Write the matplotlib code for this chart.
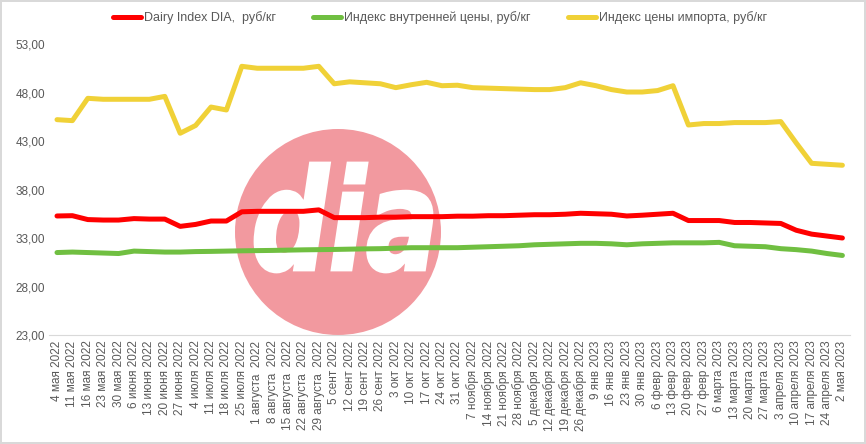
import matplotlib
matplotlib.use("Agg")
import matplotlib.pyplot as plt
from matplotlib.patches import Circle, PathPatch
from matplotlib.textpath import TextPath
from matplotlib.font_manager import FontProperties
from matplotlib.transforms import Affine2D

plt.rcParams["font.family"] = ["Liberation Sans", "DejaVu Sans"]

dates = [
    "4 мая 2022", "11 мая 2022", "16 мая 2022", "23 мая 2022", "30 мая 2022",
    "6 июня 2022", "13 июня 2022", "20 июня 2022", "27 июня 2022",
    "4 июля 2022", "11 июля 2022", "18 июля 2022", "25 июля 2022",
    "1 августа  2022", "8 августа  2022", "15 августа  2022", "22 августа  2022",
    "29 августа  2022", "5 сент 2022", "12 сент 2022", "19 сент 2022", "26 сент 2022",
    "3 окт 2022", "10 окт 2022", "17 окт 2022", "24 окт 2022", "31 окт 2022",
    "7 ноября 2022", "14 ноября 2022", "21 ноября 2022", "28 ноября 2022",
    "5 декабря 2022", "12 декабря 2022", "19 декабря 2022", "26 декабря 2022",
    "9 янв 2023", "16 янв 2023", "23 янв 2023", "30 янв 2023",
    "6 февр 2023", "13 февр 2023", "20 февр 2023", "27 февр 2023",
    "6 марта 2023", "13 марта 2023", "20 марта 2023", "27 марта 2023",
    "3 апреля 2023", "10 апреля 2023", "17 апреля 2023", "24 апреля 2023", "2 мая 2023",
]

dairy_index = [
    35.27, 35.3, 34.9, 34.85, 34.85, 35.0, 34.95, 34.95, 34.2, 34.4, 34.75, 34.75,
    35.7, 35.75, 35.75, 35.75, 35.75, 35.9, 35.1, 35.1, 35.1, 35.15, 35.15, 35.2,
    35.2, 35.2, 35.25, 35.25, 35.3, 35.3, 35.35, 35.4, 35.4, 35.45, 35.55, 35.5,
    35.45, 35.27, 35.35, 35.45, 35.55, 34.8, 34.8, 34.8, 34.6, 34.6, 34.55, 34.5,
    33.8, 33.4, 33.2, 33.0,
]

domestic_index = [
    31.5, 31.55, 31.5, 31.45, 31.4, 31.65, 31.6, 31.55, 31.55, 31.6, 31.62, 31.65,
    31.68, 31.7, 31.72, 31.75, 31.78, 31.8, 31.82, 31.85, 31.88, 31.9, 31.95, 32.0,
    32.0, 32.0, 32.0, 32.05, 32.1, 32.15, 32.2, 32.3, 32.35, 32.4, 32.45, 32.45,
    32.4, 32.3, 32.4, 32.45, 32.5, 32.5, 32.5, 32.55, 32.2, 32.15, 32.1, 31.9,
    31.8, 31.65, 31.4, 31.2,
]

import_index = [
    45.2, 45.1, 47.4, 47.3, 47.3, 47.3, 47.3, 47.6, 43.8, 44.6, 46.5, 46.2,
    50.7, 50.5, 50.5, 50.5, 50.5, 50.7, 48.9, 49.1, 49.0, 48.9, 48.5, 48.8,
    49.05, 48.7, 48.75, 48.5, 48.45, 48.4, 48.35, 48.3, 48.3, 48.5, 49.0, 48.7,
    48.3, 48.05, 48.05, 48.2, 48.7, 44.65, 44.8, 44.8, 44.9, 44.9, 44.9, 45.0,
    42.8, 40.7, 40.6, 40.5,
]

W, H = 866, 444
fig = plt.figure(figsize=(W / 100, H / 100), dpi=100)
fig.patch.set_edgecolor("#d9d9d9")
fig.patch.set_linewidth(1.5)

# plot area in pixels: x 49..850, y 44 (53) .. 335 (23)
ax = fig.add_axes([49.3 / W, (H - 335) / H, 800.8 / W, 291 / H])
ax.patch.set_visible(False)

# dia logo behind the lines
logo = Circle((338 / 100, (H - 232) / 100), 1.03, transform=fig.dpi_scale_trans,
              facecolor="#f2999f", edgecolor="none", zorder=0.5, clip_on=False)
ax.add_patch(logo)
tp = TextPath((0, 0), "dia", prop=FontProperties(family="DejaVu Sans", weight="bold", style="italic"))
bb = tp.get_extents()
x0, x1, y0, y1 = 255, 432, H - 272, H - 163
tr = (Affine2D().translate(-bb.x0, -bb.y0)
      .scale((x1 - x0) / bb.width / 100, (y1 - y0) / bb.height / 100)
      .translate(x0 / 100, y0 / 100) + fig.dpi_scale_trans)
ax.add_patch(PathPatch(tp, transform=tr, facecolor="white", edgecolor="white", lw=2,
                       zorder=0.6, clip_on=False))

x = list(range(len(dates)))
ax.plot(x, dairy_index, color="#ff0000", lw=3.6, solid_capstyle="round",
        solid_joinstyle="round", label="Dairy Index DIA,  руб/кг", zorder=3)
ax.plot(x, domestic_index, color="#70bf41", lw=3.6, solid_capstyle="round",
        solid_joinstyle="round", label="Индекс внутренней цены, руб/кг", zorder=3)
ax.plot(x, import_index, color="#f0d137", lw=3.6, solid_capstyle="round",
        solid_joinstyle="round", label="Индекс цены импорта, руб/кг", zorder=3)

ax.set_xlim(-0.5, len(dates) - 0.5)
ax.set_ylim(23, 53)
yt = [23, 28, 33, 38, 43, 48, 53]
ax.set_yticks(yt)
ax.set_yticklabels([f"{v:.2f}".replace(".", ",") for v in yt], color="#595959", fontsize=8.5)
ax.set_xticks(x)
ax.set_xticklabels(dates, rotation=90, color="#595959", fontsize=8.5)
ax.tick_params(axis="x", length=0, pad=4)
ax.tick_params(axis="y", length=0, pad=3)
for s in ["top", "right", "left"]:
    ax.spines[s].set_visible(False)
ax.spines["bottom"].set_color("#d9d9d9")
ax.spines["bottom"].set_zorder(4)

fig.legend(loc="center", bbox_to_anchor=(440 / W, (H - 18) / H), ncol=3, frameon=False,
           fontsize=9, handlelength=2.2, columnspacing=3.0, handletextpad=0.25,
           labelcolor="#595959")

fig.savefig("out.png", dpi=100)
